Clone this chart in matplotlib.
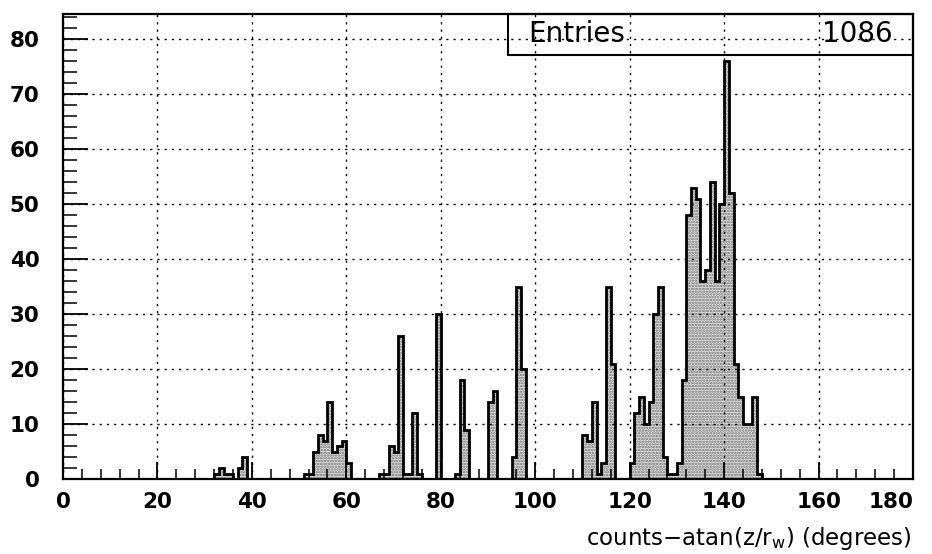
import matplotlib
matplotlib.use("Agg")
import matplotlib.pyplot as plt
import numpy as np
from matplotlib.patches import Rectangle
from matplotlib.ticker import MultipleLocator

# ---------------- data (bin lower edge in degrees -> counts) ----------------
angles = [32, 33, 34, 35, 37, 38,
          51, 52, 53, 54, 55, 56, 57, 58, 59, 60,
          67, 68, 69, 70, 71, 72, 73, 74, 75,
          79,
          83, 84, 85,
          90, 91,
          95, 96, 97,
          110, 111, 112, 113, 114, 115, 116,
          120, 121, 122, 123, 124, 125, 126, 127, 128, 129,
          130, 131, 132, 133, 134, 135, 136, 137, 138, 139,
          140, 141, 142, 143, 144, 145, 146, 147]
counts = [1, 2, 1, 1, 2, 4,
          1, 1, 5, 8, 7, 14, 5, 6, 7, 3,
          1, 1, 6, 5, 26, 1, 1, 12, 1,
          30,
          1, 18, 9,
          14, 16,
          4, 35, 20,
          8, 7, 14, 1, 3, 35, 21,
          3, 12, 15, 10, 14, 30, 35, 4, 1, 1,
          3, 18, 48, 53, 51, 36, 38, 54, 36, 50,
          76, 52, 21, 15, 10, 10, 15, 1]
x_ticks = [0, 20, 40, 60, 80, 100, 120, 140, 160, 180]
y_ticks = [0, 10, 20, 30, 40, 50, 60, 70, 80]
entries_label = "Entries"
entries_value = "1086"
x_title = "counts\u2212atan(z/r$_w$) (degrees)"

# ---------------- figure ----------------
plt.rcParams['font.family'] = ['DejaVu Sans']
plt.rcParams['mathtext.default'] = 'regular'
plt.rcParams['hatch.linewidth'] = 1.2

fig = plt.figure(figsize=(9.32, 5.54), dpi=100)
ax = fig.add_axes([0.0676, 0.1348, 0.912, 0.8405])

nbins = 180
hist = np.zeros(nbins)
for a, c in zip(angles, counts):
    hist[a] = c
edges = np.linspace(0, 180, nbins + 1)

ax.stairs(hist, edges, fill=True, facecolor='#e2e2e2', edgecolor='#6e6e6e',
          hatch='......', linewidth=0, zorder=2)
ax.stairs(hist, edges, color='black', linewidth=2.0, zorder=3)

ax.set_xlim(0, 180)
ax.set_ylim(0, 84.65)
ax.set_xticks(x_ticks)
ax.set_yticks(y_ticks)
ax.xaxis.set_minor_locator(MultipleLocator(4))
ax.yaxis.set_minor_locator(MultipleLocator(2))
ax.set_axisbelow(False)
ax.grid(True, which='major', color='black', linestyle=(0, (1.6, 3.6)), linewidth=1.0)

ax.tick_params(axis='x', which='major', direction='in', length=12, width=1.3,
               top=False, pad=9, labelsize=15.5)
ax.tick_params(axis='x', which='minor', direction='in', length=7, width=1.1, top=False)
ax.tick_params(axis='y', which='major', direction='in', length=18, width=1.3,
               right=False, pad=17, labelsize=15.5)
ax.tick_params(axis='y', which='minor', direction='in', length=10, width=1.1, right=False)
xlabels = ax.get_xticklabels()
for lab in xlabels + ax.get_yticklabels():
    lab.set_fontweight('bold')
xlabels[-1].set_horizontalalignment('right')
for sp in ax.spines.values():
    sp.set_linewidth(1.6)

# statistics box (transparent, grid shows through)
ax.add_patch(Rectangle((0.5235, 0.912), 0.4765, 0.088, transform=ax.transAxes,
                       fill=False, linewidth=1.5, edgecolor='black', clip_on=False, zorder=4))
ax.text(0.547, 0.956, entries_label, transform=ax.transAxes, ha='left', va='center',
        fontsize=20, zorder=5)
ax.text(0.9765, 0.956, entries_value, transform=ax.transAxes, ha='right', va='center',
        fontsize=20, zorder=5)

fig.text(912 / 932, 1 - 538 / 554, x_title, ha='right', va='center', fontsize=16.5)

fig.savefig("out.png", dpi=100)
